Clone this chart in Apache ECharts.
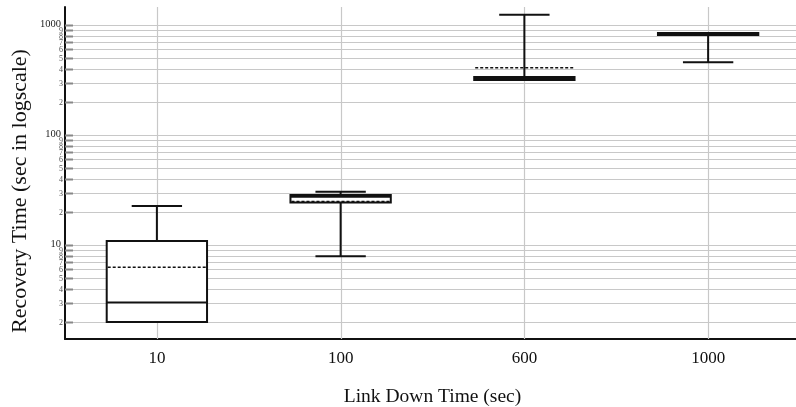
<!DOCTYPE html>
<html>
<head>
<meta charset="utf-8">
<script src="https://cdn.jsdelivr.net/npm/echarts@6/dist/echarts.min.js"></script>
<style>html,body{margin:0;padding:0;background:#fff;}#c{width:796px;height:407px;}</style>
</head>
<body>
<div id="c"></div>
<script>
const categories = ['10', '100', '600', '1000'];
const minVals    = [2,    7.9,  316,  458];
const q1Vals     = [2,    24.4, 316,  811];
const medianVals = [3,    27.5, 325,  830];
const q3Vals     = [10.9, 28.5, 337,  846];
const maxVals    = [22.6, 30.5, 1241, 846];
const meanVals   = [6.3,  24.9, 409,  812];
const yMajorTicks = [10, 100, 1000];
const yMinorTicks = [2,3,4,5,6,7,8,9,20,30,40,50,60,70,80,90,200,300,400,500,600,700,800,900];
const xTitle = 'Link Down Time (sec)';
const yTitle = 'Recovery Time (sec in logscale)';

const FONT = 'Liberation Serif';
const boxData = categories.map((c, i) => [i, minVals[i], q1Vals[i], medianVals[i], q3Vals[i], maxVals[i], meanVals[i]]);
const tickData = yMajorTicks.map(v => [0, v, 1]).concat(yMinorTicks.map(v => [0, v, 0]));
const vgridData = categories.map((c, i) => [i, 10]);

const chart = echarts.init(document.getElementById('c'));
const snap = v => Math.round(v) + 0.5;

chart.setOption({
  animation: false,
  grid: { left: 65, right: -4, top: 7, bottom: 68, outerBoundsMode: 'none', containLabel: false },
  graphic: [
    {
      type: 'text',
      x: 20, y: 191,
      rotation: Math.PI / 2,
      style: { text: yTitle, align: 'center', verticalAlign: 'middle', fontSize: 22, fill: '#111', fontFamily: FONT }
    }
  ],
  xAxis: {
    type: 'category',
    data: categories,
    axisLine: { lineStyle: { color: '#111', width: 2 } },
    axisTick: { show: false },
    splitLine: { show: false },
    axisLabel: { fontSize: 17, color: '#111', fontFamily: FONT, margin: 11 },
    name: xTitle,
    nameLocation: 'middle',
    nameGap: 48,
    nameTextStyle: { fontSize: 19.5, color: '#111', fontFamily: FONT }
  },
  yAxis: {
    type: 'log',
    logBase: 10,
    min: 1.4,
    max: 1458,
    axisLine: { show: true, lineStyle: { color: '#111', width: 2 } },
    axisTick: { show: false },
    axisLabel: { show: false },
    splitLine: { show: false }
  },
  series: [
    {
      type: 'custom',
      name: 'ygrid',
      z: 1,
      silent: true,
      data: tickData,
      renderItem: function (params, api) {
        const v = api.value(1);
        const major = api.value(2) === 1;
        const cs = params.coordSys;
        const y = snap(api.coord([0, v])[1]);
        const exp = Math.floor(Math.log10(v) + 1e-9);
        const lead = Math.round(v / Math.pow(10, exp));
        const label = major ? String(v) : String(lead);
        return {
          type: 'group',
          children: [
            { type: 'line', shape: { x1: cs.x, y1: y, x2: cs.x + cs.width, y2: y }, style: { stroke: '#c8c8c8', lineWidth: 1.2 } },
            { type: 'line', shape: { x1: cs.x, y1: y, x2: cs.x + 8, y2: y }, style: { stroke: '#888', lineWidth: 2 } },
            { type: 'text', x: cs.x - (major ? 4 : 2), y: y - (major ? 1 : 0), style: { text: label, align: 'right', verticalAlign: 'middle', fontSize: major ? 10.5 : 8, fill: major ? '#222' : '#555', fontFamily: FONT } }
          ]
        };
      }
    },
    {
      type: 'custom',
      name: 'xgrid',
      z: 1,
      silent: true,
      data: vgridData,
      renderItem: function (params, api) {
        const cs = params.coordSys;
        const x = snap(api.coord([api.value(0), api.value(1)])[0]);
        return { type: 'line', shape: { x1: x, y1: cs.y, x2: x, y2: cs.y + cs.height }, style: { stroke: '#c8c8c8', lineWidth: 1.2 } };
      }
    },
    {
      type: 'custom',
      name: 'box',
      z: 5,
      data: boxData,
      renderItem: function (params, api) {
        const i = api.value(0);
        const band = api.size([1, 0])[0];
        const hw = band * 0.273;
        const cw = band * 0.137;
        const x = api.coord([i, 1])[0];
        const yMin = api.coord([i, api.value(1)])[1];
        const yQ1 = api.coord([i, api.value(2)])[1];
        const yMed = api.coord([i, api.value(3)])[1];
        const yQ3 = api.coord([i, api.value(4)])[1];
        const yMax = api.coord([i, api.value(5)])[1];
        const yMean = api.coord([i, api.value(6)])[1];
        const stroke = '#111';
        return {
          type: 'group',
          children: [
            { type: 'line', shape: { x1: x, y1: yQ3, x2: x, y2: yMax }, style: { stroke: stroke, lineWidth: 2 } },
            { type: 'line', shape: { x1: x, y1: yQ1, x2: x, y2: yMin }, style: { stroke: stroke, lineWidth: 2 } },
            { type: 'line', shape: { x1: x - cw, y1: yMax, x2: x + cw, y2: yMax }, style: { stroke: stroke, lineWidth: 2 } },
            { type: 'line', shape: { x1: x - cw, y1: yMin, x2: x + cw, y2: yMin }, style: { stroke: stroke, lineWidth: 2 } },
            { type: 'rect', shape: { x: x - hw, y: yQ3, width: 2 * hw, height: yQ1 - yQ3 }, style: { fill: '#fff', stroke: stroke, lineWidth: 2 } },
            { type: 'line', shape: { x1: x - hw, y1: yMed, x2: x + hw, y2: yMed }, style: { stroke: stroke, lineWidth: 2 } },
            { type: 'line', shape: { x1: x - hw + 1, y1: yMean, x2: x + hw - 1, y2: yMean }, style: { stroke: stroke, lineWidth: 1.5, lineDash: [3, 2] } }
          ]
        };
      }
    }
  ]
});
</script>
</body>
</html>
